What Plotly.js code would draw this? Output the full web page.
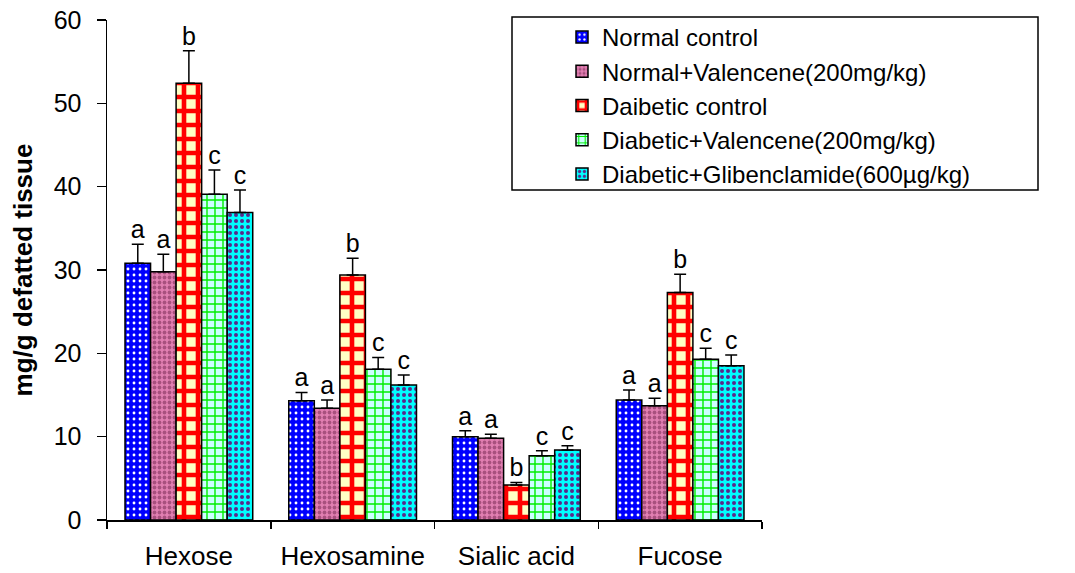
<!DOCTYPE html>
<html>
<head>
<meta charset="utf-8">
<script src="https://cdn.plot.ly/plotly-3.0.1.min.js"></script>
<style>html,body{margin:0;padding:0;background:#fff;} #chart{width:1075px;height:573px;}</style>
</head>
<body>
<div id="chart"></div>
<script>
// ---- data ----
var categories = ["Hexose", "Hexosamine", "Sialic acid", "Fucose"];
var seriesNames = ["Normal control", "Normal+Valencene(200mg/kg)", "Daibetic control", "Diabetic+Valencene(200mg/kg)", "Diabetic+Glibenclamide(600\u00b5g/kg)"];
var normalControl = [30.8, 14.3, 10.0, 14.4];
var normalValencene = [29.8, 13.4, 9.8, 13.7];
var diabeticControl = [52.4, 29.4, 4.2, 27.3];
var diabeticValencene = [39.1, 18.1, 7.7, 19.3];
var diabeticGliben = [36.9, 16.2, 8.4, 18.5];
var errNormalControl = [2.3, 1.0, 0.7, 1.2];
var errNormalValencene = [2.1, 1.0, 0.5, 0.9];
var errDiabeticControl = [3.9, 2.0, 0.3, 2.2];
var errDiabeticValencene = [2.9, 1.4, 0.6, 1.3];
var errDiabeticGliben = [2.7, 1.2, 0.5, 1.3];
var lettersNormalControl = ["a", "a", "a", "a"];
var lettersNormalValencene = ["a", "a", "a", "a"];
var lettersDiabeticControl = ["b", "b", "b", "b"];
var lettersDiabeticValencene = ["c", "c", "c", "c"];
var lettersDiabeticGliben = ["c", "c", "c", "c"];

var values = [normalControl, normalValencene, diabeticControl, diabeticValencene, diabeticGliben];
var errors = [errNormalControl, errNormalValencene, errDiabeticControl, errDiabeticValencene, errDiabeticGliben];
var letters = [lettersNormalControl, lettersNormalValencene, lettersDiabeticControl, lettersDiabeticValencene, lettersDiabeticGliben];

// ---- styles ----
var FONT = "Liberation Sans, Arial, sans-serif";
var patterns = [
  {shape: ".", bgcolor: "#0000ff", fgcolor: "#ffffff", size: 6, solidity: 0.18, fillmode: "replace"},
  {shape: ".", bgcolor: "#e27fb2", fgcolor: "#a8507e", size: 5, solidity: 0.45, fillmode: "replace"},
  {shape: "+", bgcolor: "#ffffc4", fgcolor: "#ff0000", size: 14, solidity: 0.55, fillmode: "replace"},
  {shape: "+", bgcolor: "#ccffff", fgcolor: "#00ee00", size: 8, solidity: 0.32, fillmode: "replace"},
  {shape: ".", bgcolor: "#00ffff", fgcolor: "#5a2a8a", size: 6, solidity: 0.35, fillmode: "replace"}
];
var BARGAP = 0.22;
var nS = seriesNames.length;
var w = (1 - BARGAP) / nS;

var traces = [];
for (var j = 0; j < nS; j++) {
  traces.push({
    type: "bar",
    name: seriesNames[j],
    x: categories,
    y: values[j],
    marker: {color: patterns[j].bgcolor, pattern: patterns[j], line: {color: "#000", width: 1.5}},
    error_y: {type: "data", array: errors[j], arrayminus: errors[j].map(function(){return 0;}), symmetric: false, color: "#000", thickness: 1.5, width: 6},
    hoverinfo: "skip"
  });
}
for (var j = 0; j < nS; j++) {
  traces.push({
    type: "scatter",
    mode: "text",
    xaxis: "x2",
    x: categories.map(function(c, i){ return i + (j - (nS - 1) / 2) * w; }),
    y: values[j].map(function(v, i){ return v + errors[j][i]; }),
    text: letters[j],
    textposition: "top center",
    textfont: {family: FONT, size: 25, color: "#000"},
    showlegend: false,
    hoverinfo: "skip"
  });
}

var L = 107, R = 313, T = 20, B = 53;
var pw = 1075 - L - R, ph = 573 - T - B;
function px2x(p){ return (p - L) / pw; }
function py2y(p){ return (573 - B - p) / ph; }

var layout = {
  width: 1075, height: 573,
  margin: {l: L, r: R, t: T, b: B, pad: 0},
  paper_bgcolor: "#fff", plot_bgcolor: "#fff",
  barmode: "group", bargap: BARGAP, bargroupgap: 0,
  font: {family: FONT, size: 26, color: "#000"},
  xaxis: {
    type: "category", tickson: "boundaries", ticks: "outside", ticklen: 7, tickwidth: 1.5, tickcolor: "#000",
    showline: true, linecolor: "#000", linewidth: 1.5, showgrid: false, zeroline: false,
    tickfont: {family: FONT, size: 26}, ticklabelstandoff: 12, range: [-0.5, 3.5]
  },
  xaxis2: {overlaying: "x", range: [-0.5, 3.5], visible: false, showgrid: false, zeroline: false},
  yaxis: {
    range: [0, 60], dtick: 10, ticks: "outside", ticklen: 9, tickwidth: 1.5, tickcolor: "#000",
    showline: true, linecolor: "#000", linewidth: 1.5, showgrid: false, zeroline: false,
    tickfont: {family: FONT, size: 25}, ticklabelstandoff: 10,
    title: {text: "<b>mg/g defatted tissue</b>", font: {family: FONT, size: 26}, standoff: 13}
  },
  showlegend: true,
  legend: {
    x: px2x(562), y: py2y(15), xanchor: "left", yanchor: "top",
    bgcolor: "rgba(0,0,0,0)", borderwidth: 0,
    font: {family: FONT, size: 24}, itemwidth: 30, tracegroupgap: 0
  },
  shapes: [{
    type: "rect", xref: "paper", yref: "paper",
    x0: px2x(512), x1: px2x(1038), y0: py2y(190), y1: py2y(17),
    line: {color: "#000", width: 1.5}, fillcolor: "rgba(0,0,0,0)"
  }]
};

Plotly.newPlot("chart", traces, layout, {displayModeBar: false, staticPlot: true});
</script>
</body>
</html>
